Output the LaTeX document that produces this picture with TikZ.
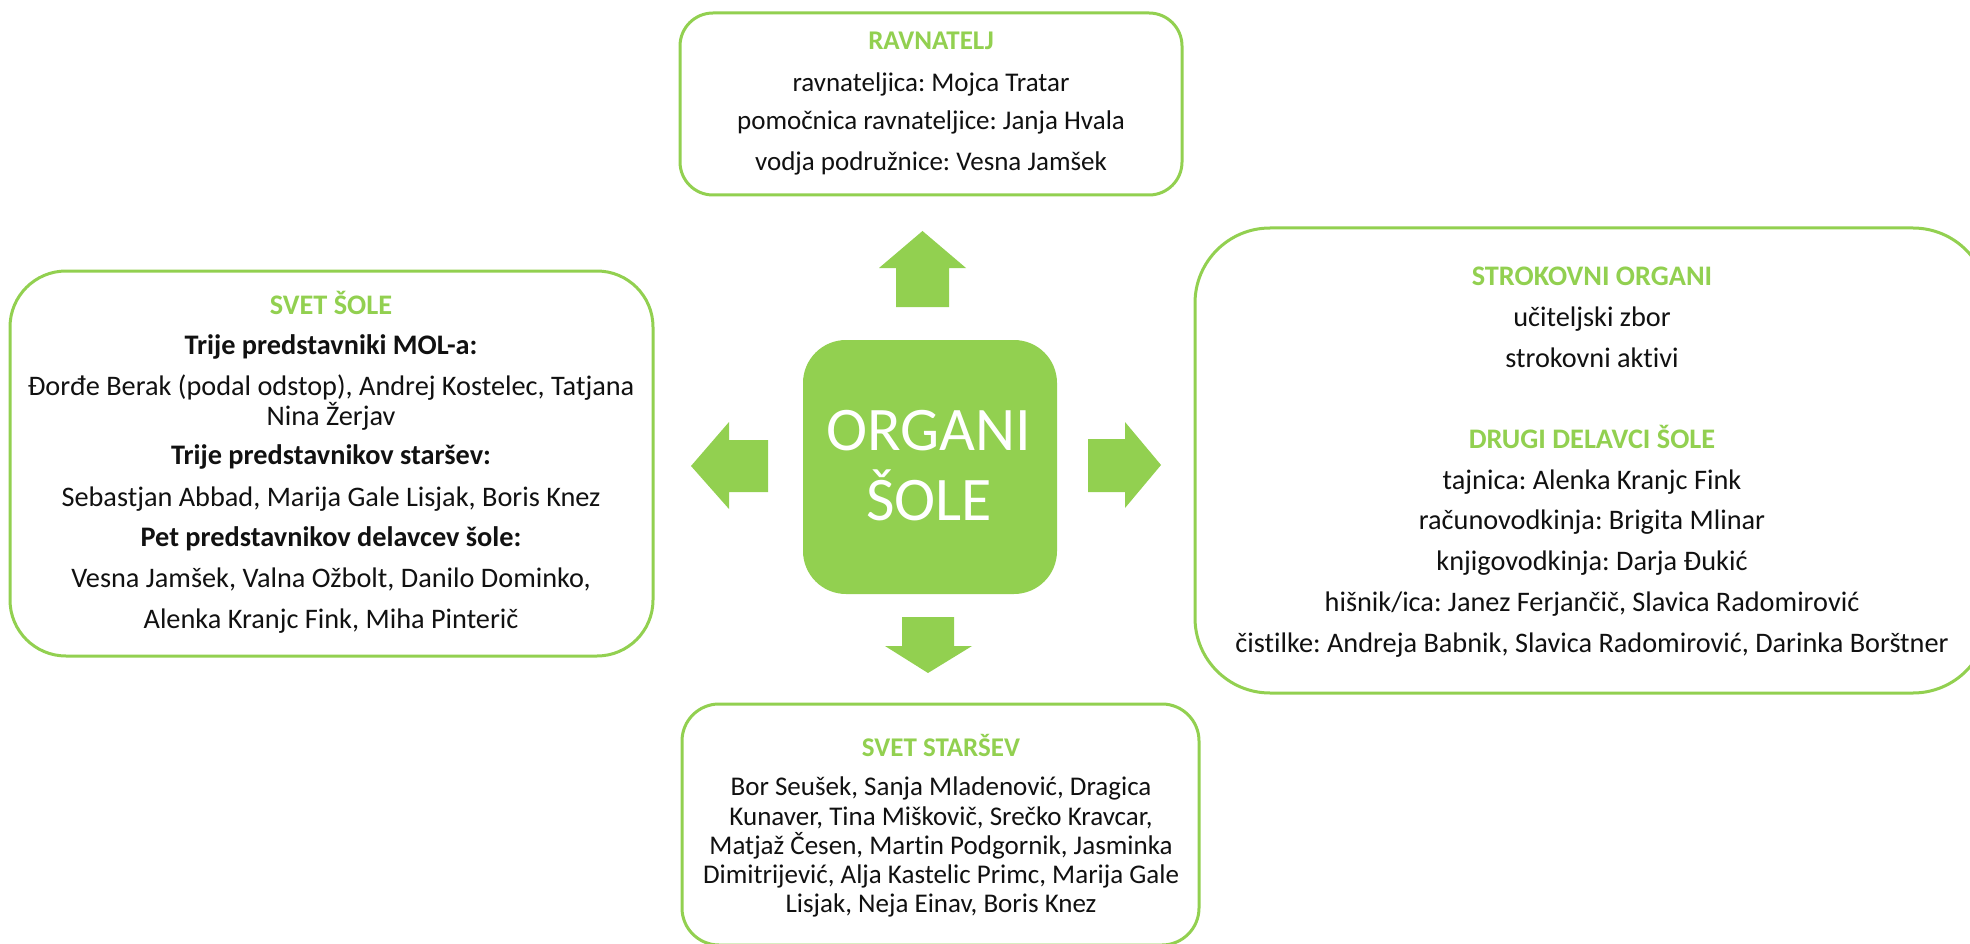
\documentclass[tikz,border=0pt]{standalone}
\usepackage{fontspec}
\setmainfont{Carlito}[Ligatures=NoCommon]
\definecolor{gr}{HTML}{92D050}
\definecolor{tx}{HTML}{111111}
\frenchspacing
\begin{document}
\begin{tikzpicture}[x=1pt,y=-1pt,
  box/.style={draw=gr, line width=3pt, fill=white, inner sep=0pt, rectangle},
  ln/.style={anchor=base, inner sep=0pt, text=tx, font=\fontsize{27}{32}\selectfont},
  lnb/.style={anchor=base, inner sep=0pt, text=tx, font=\fontsize{28.3}{32}\selectfont},
  bl/.style={anchor=base, inner sep=0pt, text=tx, font=\fontsize{28.3}{32}\selectfont\bfseries},
  ttl/.style={anchor=base, inner sep=0pt, text=gr, font=\fontsize{27}{32}\selectfont\bfseries},
  ttlb/.style={anchor=base, inner sep=0pt, text=gr, font=\fontsize{28.3}{32}\selectfont\bfseries},
  blockarrow/.style={fill=gr, draw=none}]
\useasboundingbox (0,0) rectangle (1970,944);
\clip (0,0) rectangle (1970,944);

% boxes
\node[box, rounded corners=33pt, minimum width=502pt, minimum height=182pt] (rav) at (931,104) {};
\node[box, rounded corners=56pt, minimum width=643pt, minimum height=385pt] (svet) at (331.5,463.5) {};
\node[box, rounded corners=75pt, minimum width=793pt, minimum height=465pt] (strok) at (1591.5,460.5) {};
\node[box, rounded corners=37pt, minimum width=517pt, minimum height=241pt] (stars) at (940.5,824.5) {};
\node[fill=gr, rounded corners=43pt, minimum width=254pt, minimum height=254pt, inner sep=0pt] (org) at (930,467) {};

% centre text
\node[anchor=base, inner sep=0pt, text=white, font=\fontsize{62}{70}\selectfont] (o1) at (929,450) {ORGANI};
\node[anchor=base, inner sep=0pt, text=white, font=\fontsize{62}{70}\selectfont] (o2) at (929,520) {ŠOLE};

% block arrows
\fill[blockarrow] (922.5,231) -- (966,268) -- (949,268) -- (949,307) -- (896,307) -- (896,268) -- (879,268) -- cycle;
\fill[blockarrow] (691,466) -- (729,422) -- (729,440) -- (768,440) -- (768,492) -- (729,492) -- (729,509) -- cycle;
\fill[blockarrow] (1161,465) -- (1125,422) -- (1125,439) -- (1088,439) -- (1088,492) -- (1125,492) -- (1125,508) -- cycle;
\fill[blockarrow] (928,673) -- (885,646) -- (902,646) -- (902,617) -- (954,617) -- (954,646) -- (972,646) -- cycle;

% RAVNATELJ
\node[ttl] (r1) at (931,50) {RAVNATELJ};
\node[ln] (r2) at (931,92) {ravnateljica: Mojca Tratar};
\node[ln] (r3) at (931,130) {pomočnica ravnateljice: Janja Hvala};
\node[ln] (r4) at (931,171) {vodja podružnice: Vesna Jamšek};

% SVET SOLE
\node[ttlb] (s1) at (331,314) {SVET ŠOLE};
\node[bl] (s2) at (331,354) {Trije predstavniki MOL-a:};
\node[lnb] (s3) at (331,395) {Đorđe Berak (podal odstop), Andrej Kostelec, Tatjana};
\node[lnb] (s4) at (331,425) {Nina Žerjav};
\node[bl] (s5) at (331,464) {Trije predstavnikov staršev:};
\node[lnb] (s6) at (331,506) {Sebastjan Abbad, Marija Gale Lisjak, Boris Knez};
\node[bl] (s7) at (331,546) {Pet predstavnikov delavcev šole:};
\node[lnb] (s8) at (331,587) {Vesna Jamšek, Valna Ožbolt, Danilo Dominko,};
\node[lnb] (s9) at (331,628) {Alenka Kranjc Fink, Miha Pinterič};

% STROKOVNI ORGANI
\node[ttlb] (k1) at (1592,285) {STROKOVNI ORGANI};
\node[lnb] (k2) at (1592,326) {učiteljski zbor};
\node[lnb] (k3) at (1592,367) {strokovni aktivi};
\node[ttlb] (k4) at (1592,448) {DRUGI DELAVCI ŠOLE};
\node[lnb] (k5) at (1592,489) {tajnica: Alenka Kranjc Fink};
\node[lnb] (k6) at (1592,529) {računovodkinja: Brigita Mlinar};
\node[lnb] (k7) at (1592,570) {knjigovodkinja: Darja Đukić};
\node[lnb] (k8) at (1592,611) {hišnik/ica: Janez Ferjančič, Slavica Radomirović};
\node[lnb] (k9) at (1592,652) {čistilke: Andreja Babnik, Slavica Radomirović, Darinka Borštner};

% SVET STARSEV
\node[ttl] (p1) at (941,756) {SVET STARŠEV};
\node[ln] (p2) at (941,795) {Bor Seušek, Sanja Mladenović, Dragica};
\node[ln] (p3) at (941,825) {Kunaver, Tina Miškovič, Srečko Kravcar,};
\node[ln] (p4) at (941,854) {Matjaž Česen, Martin Podgornik, Jasminka};
\node[ln] (p5) at (941,883) {Dimitrijević, Alja Kastelic Primc, Marija Gale};
\node[ln] (p6) at (941,912) {Lisjak, Neja Einav, Boris Knez};
\end{tikzpicture}
\end{document}
